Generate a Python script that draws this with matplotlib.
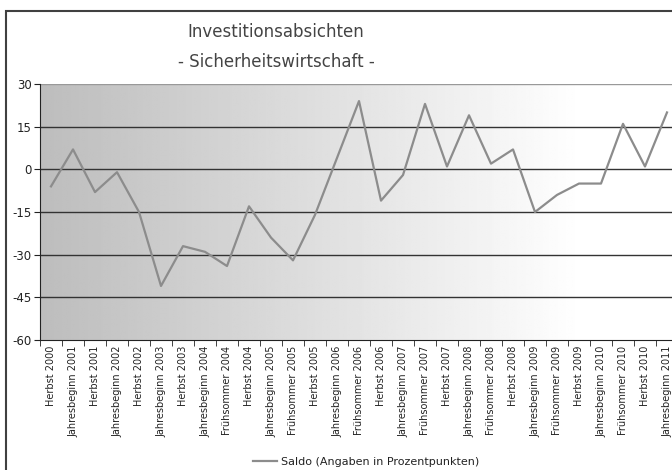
import numpy as np
import matplotlib
matplotlib.use("Agg")
from matplotlib import pyplot as plt
from matplotlib.patches import Rectangle

# data
labels = ['Herbst 2000', 'Jahresbeginn 2001', 'Herbst 2001', 'Jahresbeginn 2002',
          'Herbst 2002', 'Jahresbeginn 2003', 'Herbst 2003', 'Jahresbeginn 2004',
          'Frühsommer 2004', 'Herbst 2004', 'Jahresbeginn 2005', 'Frühsommer 2005',
          'Herbst 2005', 'Jahresbeginn 2006', 'Frühsommer 2006', 'Herbst 2006',
          'Jahresbeginn 2007', 'Frühsommer 2007', 'Herbst 2007', 'Jahresbeginn 2008',
          'Frühsommer 2008', 'Herbst 2008', 'Jahresbeginn 2009', 'Frühsommer 2009',
          'Herbst 2009', 'Jahresbeginn 2010', 'Frühsommer 2010', 'Herbst 2010',
          'Jahresbeginn 2011']
saldo = [-6, 7, -8, -1, -15, -41, -27, -29, -34, -13, -24, -32, -16, 4, 24, -11,
         -2, 23, 1, 19, 2, 7, -15, -9, -5, -5, 16, 1, 20]
yticks = [-60, -45, -30, -15, 0, 15, 30]

fnt = ['Liberation Sans Narrow', 'DejaVu Sans']

fig = plt.figure(figsize=(6.72, 4.70), dpi=100)
fig.patch.set_facecolor('white')

# outer frame (runs off the right and bottom edge)
fig.patches.append(Rectangle((6/672, -0.2), 1.2, 0.2 + (1 - 11/470),
                             transform=fig.transFigure, fill=False,
                             edgecolor='#404040', linewidth=1.5))

ax = fig.add_axes([40/672, (470-340)/470, (678-40)/672, (340-84)/470])
n = len(labels)
x = np.arange(n)

# horizontal gray gradient background
t = np.linspace(0, 1, 300)
g = np.clip(0.74 + 0.26 * t / 0.85, 0, 1)
ax.imshow(np.tile(g, (2, 1)), cmap='gray', vmin=0, vmax=1, aspect='auto',
          extent=[-0.5, n - 0.5, -60, 30], zorder=0, interpolation='bilinear')

for v in yticks[1:-1]:
    ax.axhline(v, color='#333333', linewidth=1, zorder=1)
ax.axhline(30, color='#999999', linewidth=1, zorder=1)

ax.plot(x, saldo, color='#8c8c8c', linewidth=1.6, zorder=3,
        label='Saldo (Angaben in Prozentpunkten)')

ax.set_xlim(-0.5, n - 0.5)
ax.set_ylim(-60, 30)
ax.set_yticks(yticks)
ax.set_yticklabels([str(v) for v in yticks], family=fnt, fontsize=8.5, color='#222222')
ax.set_xticks(x)
ax.set_xticklabels(labels, rotation=90, family=fnt, fontsize=7, color='#222222')
ax.set_xticks(np.arange(n + 1) - 0.5, minor=True)
ax.tick_params(axis='x', which='major', length=0, pad=4)
ax.tick_params(axis='x', which='minor', length=4, direction='out', color='#222222')
ax.tick_params(axis='y', length=4, direction='out', color='#222222', pad=2)
for s in ['top', 'right']:
    ax.spines[s].set_visible(False)
ax.spines['left'].set_color('#222222')
ax.spines['bottom'].set_color('#222222')

fig.text(276/672, 1 - 32/470, 'Investitionsabsichten', ha='center', va='center',
         family=fnt, fontsize=12, color='#444444')
fig.text(276/672, 1 - 62/470, '- Sicherheitswirtschaft -', ha='center', va='center',
         family=fnt, fontsize=12, color='#444444')

leg = fig.legend(loc='center', bbox_to_anchor=(366/672, 1 - 462/470), frameon=False,
                 prop={'family': fnt, 'size': 8}, handlelength=2.2, handletextpad=0.3,
                 borderpad=0)
for txt in leg.get_texts():
    txt.set_color('#222222')

fig.savefig('out.png', dpi=100)
